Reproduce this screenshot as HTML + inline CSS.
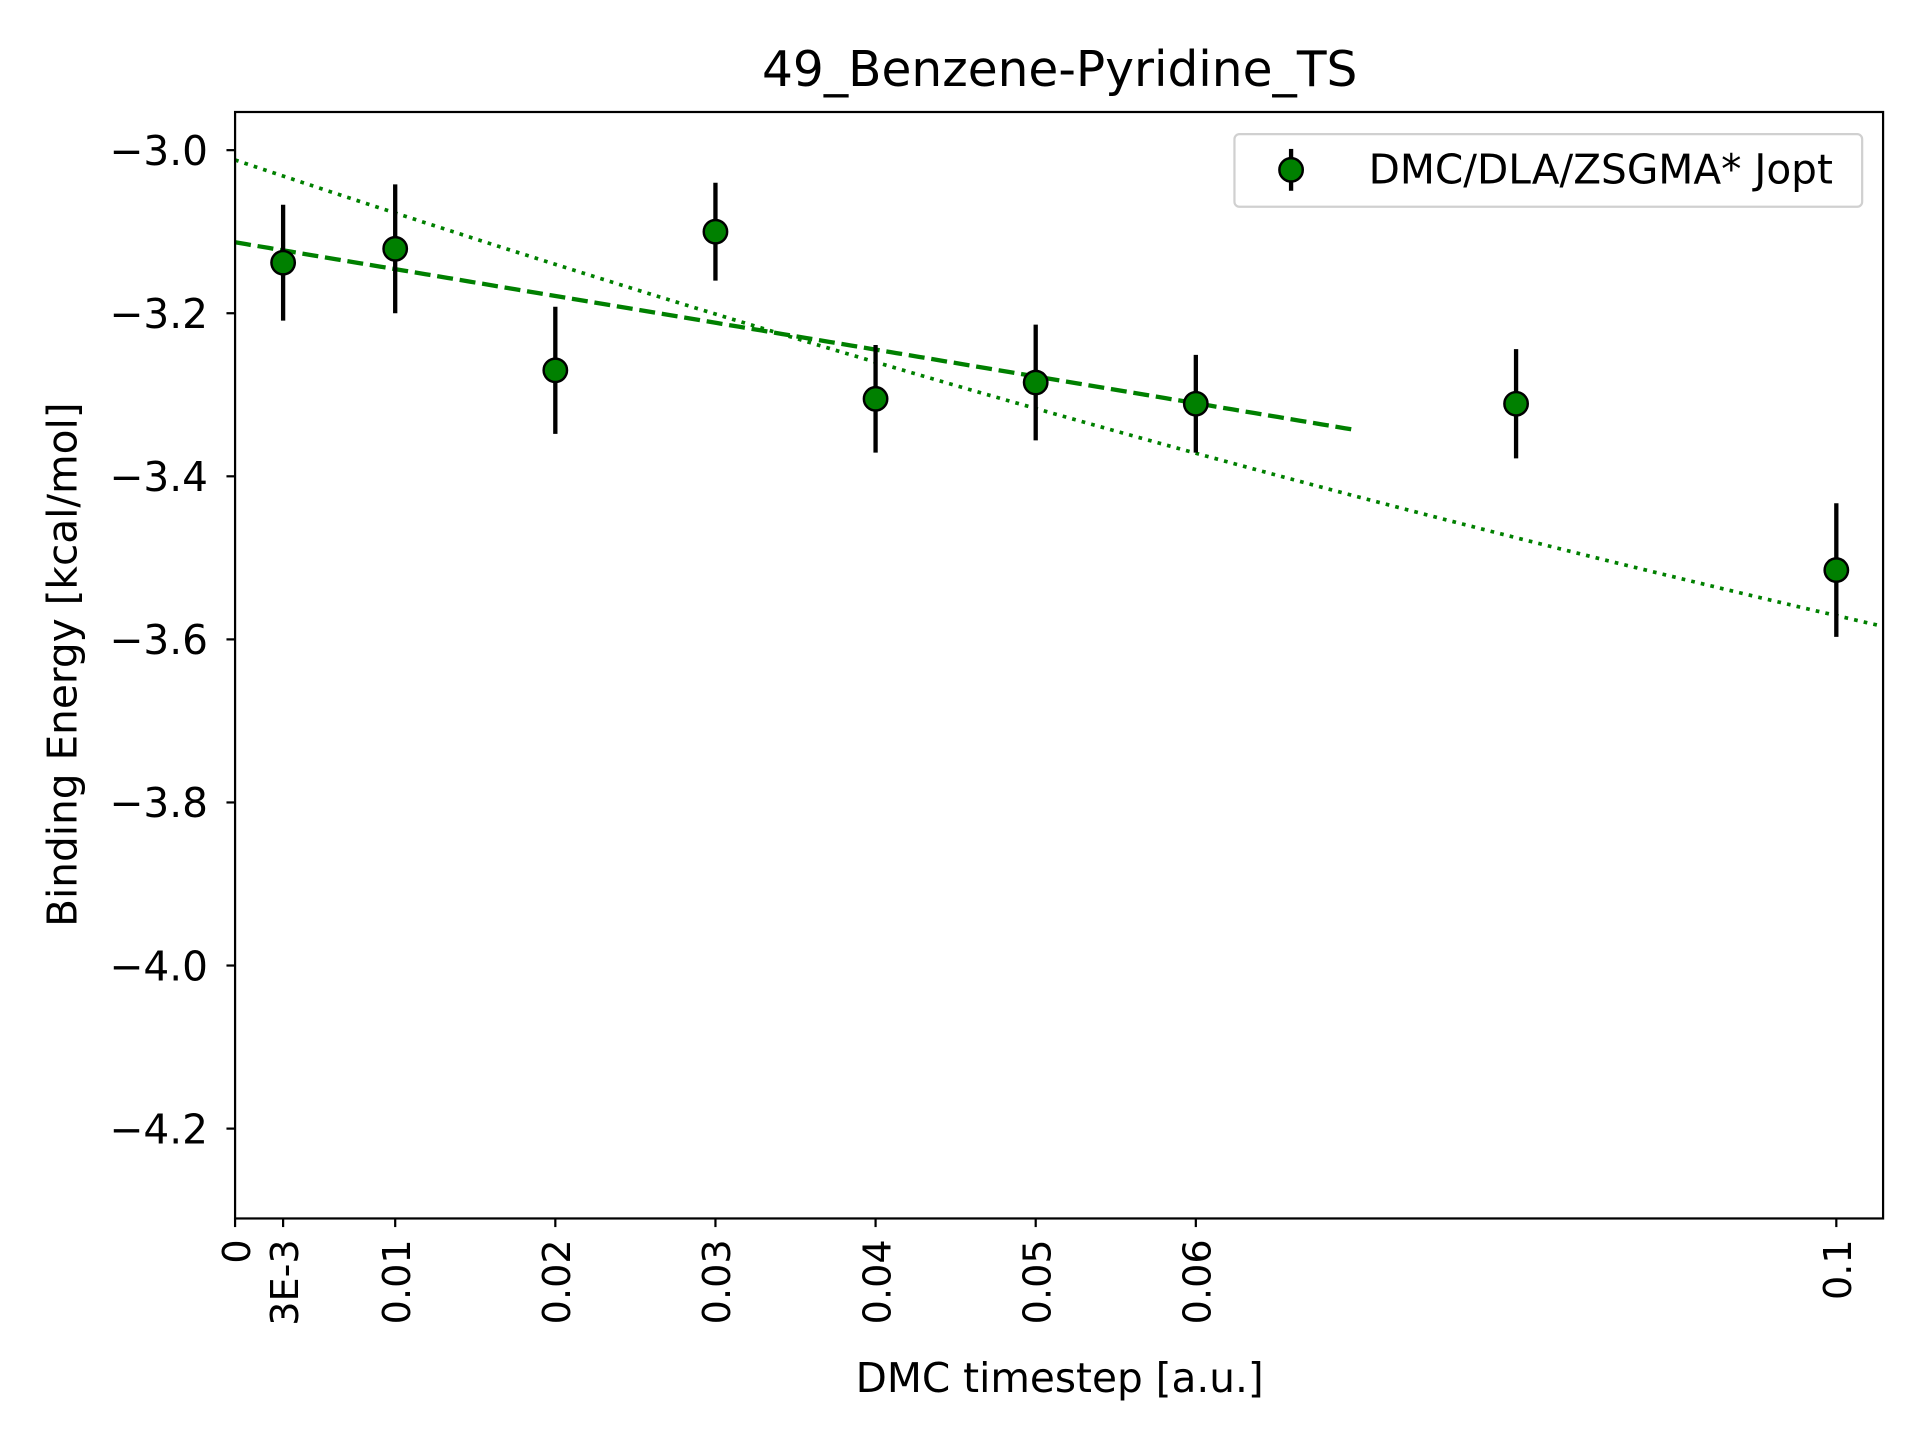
<!DOCTYPE html>
<html><head><meta charset="utf-8"><style>html,body{margin:0;padding:0;background:#fff}svg{display:block}text{font-family:"DejaVu Sans","Liberation Sans",sans-serif;fill:#000}</style></head>
<body>
<svg id="chart" width="1920" height="1440" viewBox="0 0 1560 1170" xmlns="http://www.w3.org/2000/svg">
<rect width="1560" height="1170" fill="#fff"/>
<text x="861" y="70" font-size="39.5" text-anchor="middle">49_Benzene-Pyridine_TS</text>
<g id="marks"></g>
<rect x="191" y="91" width="1339" height="899" fill="none" stroke="#000" stroke-width="1.8"/>
<g id="axes"></g>
<text transform="translate(62,540) rotate(-90)" font-size="33" text-anchor="middle">Binding Energy [kcal/mol]</text>
<text x="861" y="1131" font-size="33" text-anchor="middle">DMC timestep [a.u.]</text>
<g>
<rect x="1003" y="109" width="510" height="59" rx="4" fill="#fff" stroke="#d0d0d0" stroke-width="1.8"/>
<line x1="1049" y1="121" x2="1049" y2="155" stroke="#000" stroke-width="3.5"/>
<circle cx="1049" cy="138" r="9.5" fill="#008000" stroke="#000" stroke-width="2"/>
<text x="1112" y="149" font-size="33">DMC/DLA/ZSGMA* Jopt</text>
</g>
</svg>
<script>
const xValues = [0.003, 0.01, 0.02, 0.03, 0.04, 0.05, 0.06, 0.08, 0.1];
const yValues = [-3.138, -3.121, -3.270, -3.100, -3.305, -3.285, -3.311, -3.311, -3.515];
const yErrors = [0.071, 0.079, 0.078, 0.060, 0.066, 0.071, 0.060, 0.067, 0.082];
const xTickValues = [0, 0.003, 0.01, 0.02, 0.03, 0.04, 0.05, 0.06, 0.1];
const xTickLabels = ["0", "3E-3", "0.01", "0.02", "0.03", "0.04", "0.05", "0.06", "0.1"];
const yTickValues = [-3.0, -3.2, -3.4, -3.6, -3.8, -4.0, -4.2];
const yTickLabels = ["\u22123.0", "\u22123.2", "\u22123.4", "\u22123.6", "\u22123.8", "\u22124.0", "\u22124.2"];
const linearFitCoef = [-3.113, -3.29];
const linearFitRange = [0, 0.07];
const quadFitCoef = [-3.012, -6.605, 10.17];
const quadFitRange = [0, 0.1029];

const X0 = 191, X1 = 1530, Y0 = 990, Y1 = 91;
const xMin = 0, xMax = 0.10292, yMin = -4.3102, yMax = -2.9532;
const sx = v => X0 + (v - xMin) / (xMax - xMin) * (X1 - X0);
const sy = v => Y0 - (v - yMin) / (yMax - yMin) * (Y0 - Y1);
const NS = "http://www.w3.org/2000/svg";
const marks = document.getElementById('marks');
const axes = document.getElementById('axes');
function mk(tag, attrs, parent) {
  const e = document.createElementNS(NS, tag);
  for (const k in attrs) e.setAttribute(k, attrs[k]);
  parent.appendChild(e);
  return e;
}
function fitPath(coef, range) {
  let d = '';
  for (let i = 0; i <= 100; i++) {
    const x = range[0] + (range[1] - range[0]) * i / 100;
    let y = 0;
    coef.forEach((c, k) => { y += c * Math.pow(x, k); });
    d += (i ? 'L' : 'M') + sx(x).toFixed(2) + ',' + sy(y).toFixed(2);
  }
  return d;
}
const q = mk('path', {d: fitPath(quadFitCoef, quadFitRange), fill: 'none', stroke: '#008000', 'stroke-width': 3, 'stroke-dasharray': '3,5'}, marks);


const l = mk('path', {d: fitPath(linearFitCoef, linearFitRange), fill: 'none', stroke: '#008000', 'stroke-width': 3.5, 'stroke-dasharray': '13,5.5'}, marks);


xValues.forEach((xv, i) => {
  const e = mk('line', {x1: sx(xv), x2: sx(xv), y1: sy(yValues[i] + yErrors[i]), y2: sy(yValues[i] - yErrors[i]), stroke: '#000', 'stroke-width': 3.5}, marks);
  
  
});
xValues.forEach((xv, i) => {
  const c = mk('circle', {cx: sx(xv), cy: sy(yValues[i]), r: 9.5, fill: '#008000', stroke: '#000', 'stroke-width': 2}, marks);
  
  
});
yTickValues.forEach((v, i) => {
  const y = sy(v);
  const t = mk('line', {x1: X0 - 7, x2: X0, y1: y, y2: y, stroke: '#000', 'stroke-width': 1.8}, axes);
  
  
  const tx = mk('text', {x: X0 - 22, y: y + 12, 'font-size': 33, 'text-anchor': 'end'}, axes);
  tx.textContent = yTickLabels[i];
  
  
});
xTickValues.forEach((v, i) => {
  const x = sx(v);
  const t = mk('line', {x1: x, x2: x, y1: Y0, y2: Y0 + 7, stroke: '#000', 'stroke-width': 1.8}, axes);
  
  
  const tx = mk('text', {transform: 'translate(' + (x + 12) + ',' + (Y0 + 17) + ') rotate(-90)', 'font-size': 31, 'text-anchor': 'end'}, axes);
  tx.textContent = xTickLabels[i];
  
  
});
</script>
</body></html>
